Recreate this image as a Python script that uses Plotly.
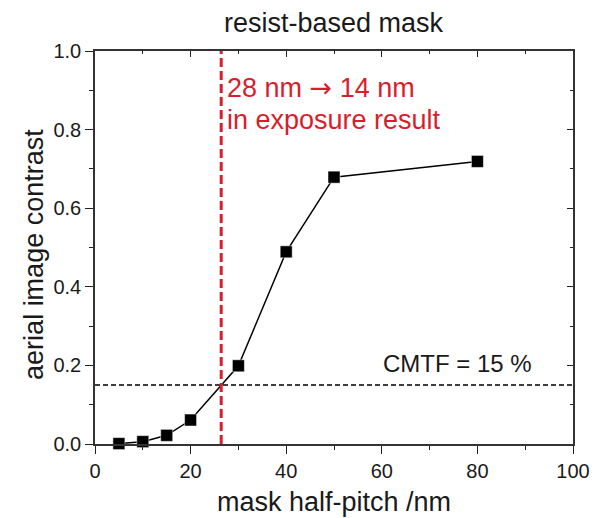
import plotly.graph_objects as go

half_pitch = [5, 10, 15, 20, 30, 40, 50, 80]
contrast = [0.001, 0.006, 0.022, 0.061, 0.199, 0.489, 0.679, 0.719]
cmtf_level = 0.15
cutoff_pitch = 26.4
x_ticks = [0, 20, 40, 60, 80, 100]
y_ticks = [0.0, 0.2, 0.4, 0.6, 0.8, 1.0]

FONT = "Liberation Sans, Arial, sans-serif"
RED = "#D81E2C"
TXT = "#1a1a1a"

fig = go.Figure()
fig.add_trace(go.Scatter(
    x=half_pitch, y=contrast, mode="lines+markers",
    line=dict(color="black", width=1.5),
    marker=dict(symbol="square", size=12, color="black", line=dict(color="white", width=0.5)),
    showlegend=False, cliponaxis=False,
))

fig.add_shape(type="line", xref="x", yref="y", x0=0, x1=100, y0=cmtf_level, y1=cmtf_level,
              line=dict(color="black", width=1.6, dash="5px,3px"))
fig.add_shape(type="line", xref="x", yref="y", x0=cutoff_pitch, x1=cutoff_pitch, y0=0, y1=1,
              line=dict(color=RED, width=3, dash="9px,4px"))

# red annotation, two lines
fig.add_annotation(x=cutoff_pitch, y=0.907, xref="x", yref="y", xanchor="left", yanchor="middle",
                   xshift=4, showarrow=False,
                   text="28 nm <span style=\"font-family:'DejaVu Sans'\">\u2192</span> 14 nm",
                   font=dict(family=FONT, size=27, color=RED))
fig.add_annotation(x=cutoff_pitch, y=0.8255, xref="x", yref="y", xanchor="left", yanchor="middle",
                   xshift=4, showarrow=False, text="in exposure result",
                   font=dict(family=FONT, size=27, color=RED))
fig.add_annotation(x=91.8, y=0.204, xref="x", yref="y", xanchor="right", yanchor="middle",
                   showarrow=False, text="CMTF = 15 %",
                   font=dict(family=FONT, size=24, color=TXT))

# title and axis titles
fig.add_annotation(x=0.5, y=1.072, xref="paper", yref="paper", xanchor="center", yanchor="middle",
                   showarrow=False, text="resist-based mask",
                   font=dict(family=FONT, size=27, color=TXT))
fig.add_annotation(x=0.5, y=-0.148, xref="paper", yref="paper", xanchor="center", yanchor="middle",
                   showarrow=False, text="mask half-pitch /nm",
                   font=dict(family=FONT, size=27, color=TXT))
fig.add_annotation(x=-0.129, y=0.482, xref="paper", yref="paper", xanchor="center", yanchor="middle",
                   showarrow=False, text="aerial image contrast", textangle=-90,
                   font=dict(family=FONT, size=27, color=TXT))

axis_common = dict(showgrid=False, zeroline=False, linecolor="#333333", linewidth=1.5,
                   tickcolor="#222222", tickwidth=1.3)

# the page body adds an 8px margin, so the figure is sized to the remaining window area
fig.update_layout(
    width=594, height=510,
    margin=dict(l=87, r=18, t=43, b=74),
    paper_bgcolor="white", plot_bgcolor="white",
    font=dict(family=FONT, color=TXT),
    xaxis=dict(range=[0, 100], tickvals=x_ticks, ticks="outside", ticklen=8,
               tickfont=dict(family=FONT, size=20, color=TXT),
               minor=dict(ticks="outside", dtick=10, ticklen=4, tickcolor="#222222", tickwidth=1.3),
               **axis_common),
    yaxis=dict(range=[0, 1], tickvals=y_ticks, tickformat=".1f", ticks="outside", ticklen=8,
               tickfont=dict(family=FONT, size=20, color=TXT),
               minor=dict(ticks="outside", dtick=0.1, ticklen=4, tickcolor="#222222", tickwidth=1.3),
               **axis_common),
    xaxis2=dict(range=[0, 100], overlaying="x", side="top", tickvals=x_ticks, ticks="inside",
                ticklen=6, showticklabels=False,
                minor=dict(ticks="inside", dtick=10, ticklen=3, tickcolor="#222222", tickwidth=1.3),
                **axis_common),
    yaxis2=dict(range=[0, 1], overlaying="y", side="right", tickvals=y_ticks, ticks="inside",
                ticklen=6, showticklabels=False,
                minor=dict(ticks="inside", dtick=0.1, ticklen=3, tickcolor="#222222", tickwidth=1.3),
                **axis_common),
)
fig.add_trace(go.Scatter(x=[None], y=[None], xaxis="x2", yaxis="y2", showlegend=False, hoverinfo="skip"))

fig.write_html("out.html")
